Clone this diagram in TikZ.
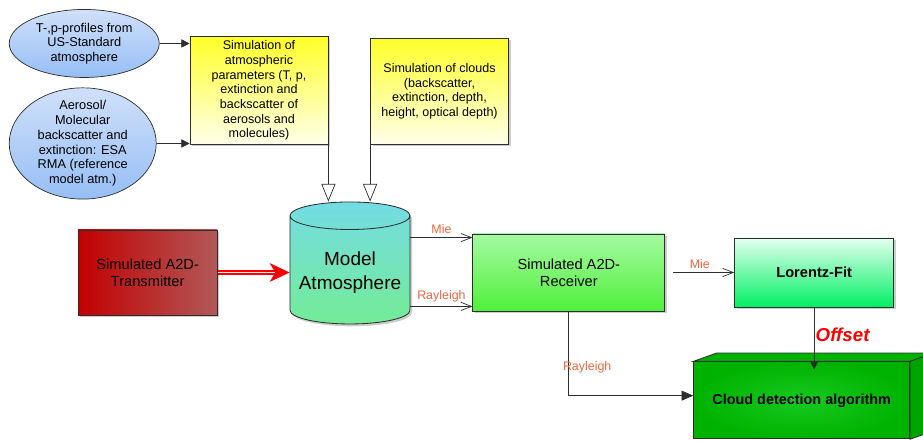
\documentclass[tikz,border=0pt]{standalone}
\usepackage{fontspec}
\setmainfont{Liberation Sans}
\usetikzlibrary{shapes.geometric, arrows.meta, positioning, calc, shadows}

\definecolor{frame}{RGB}{45,45,45}
\definecolor{ellTop}{RGB}{208,224,250}
\definecolor{ellBot}{RGB}{150,190,245}
\definecolor{simTop}{RGB}{255,255,40}
\definecolor{simBot}{RGB}{255,255,235}
\definecolor{txLeft}{RGB}{195,0,0}
\definecolor{txRight}{RGB}{178,88,88}
\definecolor{cylTop}{RGB}{115,220,228}
\definecolor{cylBot}{RGB}{115,236,150}
\definecolor{rxTop}{RGB}{165,250,160}
\definecolor{rxBot}{RGB}{80,240,60}
\definecolor{fitTop}{RGB}{228,255,238}
\definecolor{fitBot}{RGB}{0,240,100}
\definecolor{algoIn}{RGB}{22,202,32}
\definecolor{algoOut}{RGB}{0,178,0}
\definecolor{chanText}{RGB}{240,100,60}
\definecolor{laserRed}{RGB}{250,0,0}
\definecolor{laserCore}{RGB}{255,235,235}

\tikzstyle{softshadow} = [drop shadow={shadow xshift=0.06cm, shadow yshift=-0.07cm, opacity=0.4}]
\tikzstyle{source} = [ellipse, draw=frame, line width=0.6pt, align=center, top color=ellTop, bottom color=ellBot, inner xsep=2pt, inner ysep=-3pt, font=\fontsize{10.9}{12.6}\selectfont]
\tikzstyle{simbox} = [rectangle, draw=frame, line width=0.7pt, align=center, minimum width=4.14cm, minimum height=3.18cm, top color=simTop, bottom color=simBot, font=\fontsize{10.7}{12.5}\selectfont, softshadow]
\tikzstyle{txbox} = [rectangle, draw=frame, line width=0.7pt, align=center, minimum width=4.17cm, minimum height=2.55cm, left color=txLeft, right color=txRight, font=\fontsize{12.5}{14.6}\selectfont, softshadow]
\tikzstyle{cyl} = [cylinder, shape border rotate=90, shape aspect=0.25, draw=frame, line width=0.7pt, align=center, minimum width=3.6cm, minimum height=3.66cm, top color=cylTop, bottom color=cylBot, font=\fontsize{16.2}{20.5}\selectfont, softshadow]
\tikzstyle{rxbox} = [rectangle, draw=frame, line width=0.7pt, align=center, minimum width=5.76cm, minimum height=2.31cm, top color=rxTop, bottom color=rxBot, font=\fontsize{12.5}{14.6}\selectfont, softshadow]
\tikzstyle{fitbox} = [rectangle, draw=frame, line width=0.7pt, align=center, minimum width=4.77cm, minimum height=2.07cm, top color=fitTop, bottom color=fitBot, font=\bfseries\fontsize{12.5}{14.6}\selectfont, softshadow]
\tikzstyle{algobox} = [rectangle, draw=frame, line width=0.7pt, minimum width=6.48cm, minimum height=2.31cm, inner color=algoIn, outer color=algoOut, font=\bfseries\fontsize{12.3}{14}\selectfont]
\tikzstyle{feed} = [line width=0.6pt, frame, -{Triangle[length=7pt, width=7pt]}]
\tikzstyle{feedbig} = [line width=0.6pt, frame, -{Triangle[length=10pt, width=8.5pt]}]
\tikzstyle{inject} = [line width=0.6pt, frame, -{Triangle[fill=white, length=15pt, width=12pt]}]
\tikzstyle{laserhead} = [draw=laserRed, fill=laserRed, line width=0.6pt, shorten <=40pt, -{Stealth[length=17pt, width=16pt, inset=5pt]}]
\tikzstyle{laser} = [preaction={draw=laserRed, line width=3.8pt}, draw=laserCore, line width=1.5pt, shorten >=12.5pt]
\tikzstyle{beam} = [line width=0.6pt, frame, -{Straight Barb[length=9pt, width=7pt]}]
\tikzstyle{channel} = [text=chanText, font=\fontsize{10.6}{12}\selectfont]
\tikzstyle{offsettext} = [text=red, font=\bfseries\itshape\fontsize{16}{18}\selectfont, inner sep=1pt]

\begin{document}
\begin{tikzpicture}[node distance=1.8cm and 0.9cm]

	% Canvas
	\useasboundingbox (-10.5,8.175) rectangle ++(27.69,-13.23);
	\clip (-10.5,8.175) rectangle ++(27.69,-13.23);

	% Model atmosphere
	\node (model) [cyl] {Model\\Atmosphere};

	% Simulation inputs
	\node (atmos) [simbox, above=1.71cm of model, xshift=-2.73cm] {Simulation of\\atmospheric\\parameters (T, p,\\extinction and\\backscatter of\\aerosols and\\molecules)};
	\node (clouds) [simbox, above=1.71cm of model, xshift=2.685cm] {Simulation of clouds\\(backscatter,\\extinction, depth,\\height, optical depth)};

	% Profiles
	\node (tprof) [source, left=0.9cm of atmos, yshift=1.41cm, minimum width=4.5cm, minimum height=2.04cm] {T-,p-profiles from\\US-Standard\\atmosphere};
	\node (aerosol) [source, left=0.99cm of atmos, yshift=-1.59cm, minimum width=4.41cm, minimum height=3.3cm] {Aerosol/\\Molecular\\backscatter and\\extinction: ESA\\RMA (reference\\model atm.)};

	% Lidar chain
	\node (tx) [txbox, left=2.16cm of model] {Simulated A2D-\\Transmitter};
	\node (rx) [rxbox, right=1.86cm of model] {Simulated A2D-\\Receiver};
	\node (lorentz) [fitbox, right=2.07cm of rx] {Lorentz-Fit};
	\node (cloud) [algobox, below=1.62cm of lorentz, xshift=-0.375cm] {Cloud detection algorithm};

	% Cloud box - top and side faces
	\filldraw[draw=frame, line width=0.7pt, fill=algoOut] (cloud.north west) -- ++(0.7,0.25) -- ($(cloud.north east)+(0.7,0.25)$) -- (cloud.north east) -- cycle;
	\filldraw[draw=frame, line width=0.7pt, fill=algoOut!92!black] (cloud.north east) -- ++(0.7,0.25) -- ($(cloud.south east)+(0.7,0.25)$) -- (cloud.south east) -- cycle;

	% Entry points
	\coordinate (mieIn) at ([yshift=-0.12cm]rx.north west);
	\coordinate (rayIn) at ([yshift=0.15cm]rx.south west);
	\coordinate (algoIn) at ([yshift=0.14cm]cloud.west);

	% Arrows - inputs
	\draw[feed] (tprof) -- (tprof -| atmos.west);
	\draw[feed] (aerosol) -- (aerosol -| atmos.west);
	\draw[inject] (atmos.south east) -- (atmos.south east |- model.north);
	\draw[inject] (clouds.south west) -- (clouds.south west |- model.north);

	% Arrows - signal path (head first, hollow shaft on top)
	\draw[laserhead] (tx) -- (tx -| model.west);
	\draw[laser] (tx) -- (tx -| model.west);
	\draw[beam] (model.east |- mieIn) -- (mieIn) node[channel, midway, above] {Mie};
	\draw[beam] (model.east |- rayIn) -- (rayIn) node[channel, midway, above] {Rayleigh};
	\draw[beam, shorten <=0.24cm] (rx) -- (lorentz) node[channel, midway, above] {Mie};

	% Arrows - detection
	\draw[feed, shorten >=-0.24cm] (lorentz) -- (lorentz |- cloud.north) node[offsettext, midway, right] {Offset};
	\draw[feedbig] (rx) |- (algoIn) node[channel, pos=0.33, xshift=0.55cm] {Rayleigh};

\end{tikzpicture}
\end{document}
